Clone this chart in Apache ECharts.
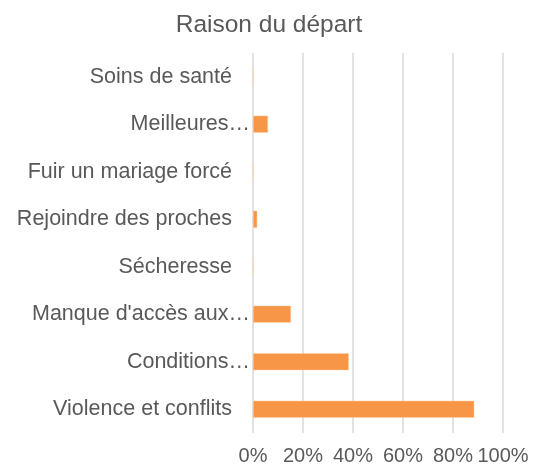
<!DOCTYPE html>
<html>
<head>
<meta charset="utf-8">
<script src="https://cdn.jsdelivr.net/npm/echarts@6/dist/echarts.min.js"></script>
<style>
  html, body { margin: 0; padding: 0; background: #fff; }
  #main { width: 538px; height: 470px; }
</style>
</head>
<body>
<div id="main"></div>
<script>
// catégories, du bas vers le haut
var categories = ["Violence et conflits", "Conditions…", "Manque d'accès aux…", "Sécheresse",
                  "Rejoindre des proches", "Fuir un mariage forcé", "Meilleures…", "Soins de santé"];
var values = [88.5, 38.3, 15.2, 0, 1.7, 0, 6, 0];
var xTicks = [0, 20, 40, 60, 80, 100];

var myChart = echarts.init(document.getElementById('main'));

var option = {
    backgroundColor: "#ffffff",
    textStyle: { fontFamily: "Liberation Sans" },
    title: {
        text: "Raison du départ",
        left: "center",
        top: 8,
        textStyle: {
            color: "#595959",
            fontSize: 24.5,
            fontWeight: "normal",
            fontFamily: "Liberation Sans"
        }
    },
    grid: {
        left: 253,
        right: 35,
        top: 53,
        bottom: 37
    },
    xAxis: {
        type: "value",
        min: xTicks[0],
        max: xTicks[xTicks.length - 1],
        interval: 20,
        axisLine: { show: false },
        axisTick: { show: false },
        splitLine: { lineStyle: { color: "#d9d9d9", width: 1.5 } },
        axisLabel: {
            color: "#595959",
            fontSize: 20,
            margin: 13,
            formatter: function (v) { return v + "%"; }
        }
    },
    yAxis: {
        type: "category",
        data: categories,
        axisLine: { show: false },
        axisTick: { show: false },
        axisLabel: {
            color: "#595959",
            fontSize: 21.5,
            margin: 3,
            interval: 0,
            // les libellés tronqués (…) débordent jusqu'à l'axe, comme dans Excel
            formatter: function (v) {
                return v.slice(-1) === "…" ? "{t|" + v + "}" : "{p|" + v + "}";
            },
            rich: {
                t: { color: "#595959", fontSize: 21.5 },
                p: { color: "#595959", fontSize: 21.5, padding: [0, 18, 0, 0] }
            }
        }
    },
    series: [{
        type: "bar",
        data: values,
        barWidth: "36%",
        itemStyle: {
            color: "#F79646",
            borderColor: "#fbd0a8",
            borderWidth: 0.5
        },
        silent: true
    }]
};

myChart.setOption(option);
</script>
</body>
</html>
